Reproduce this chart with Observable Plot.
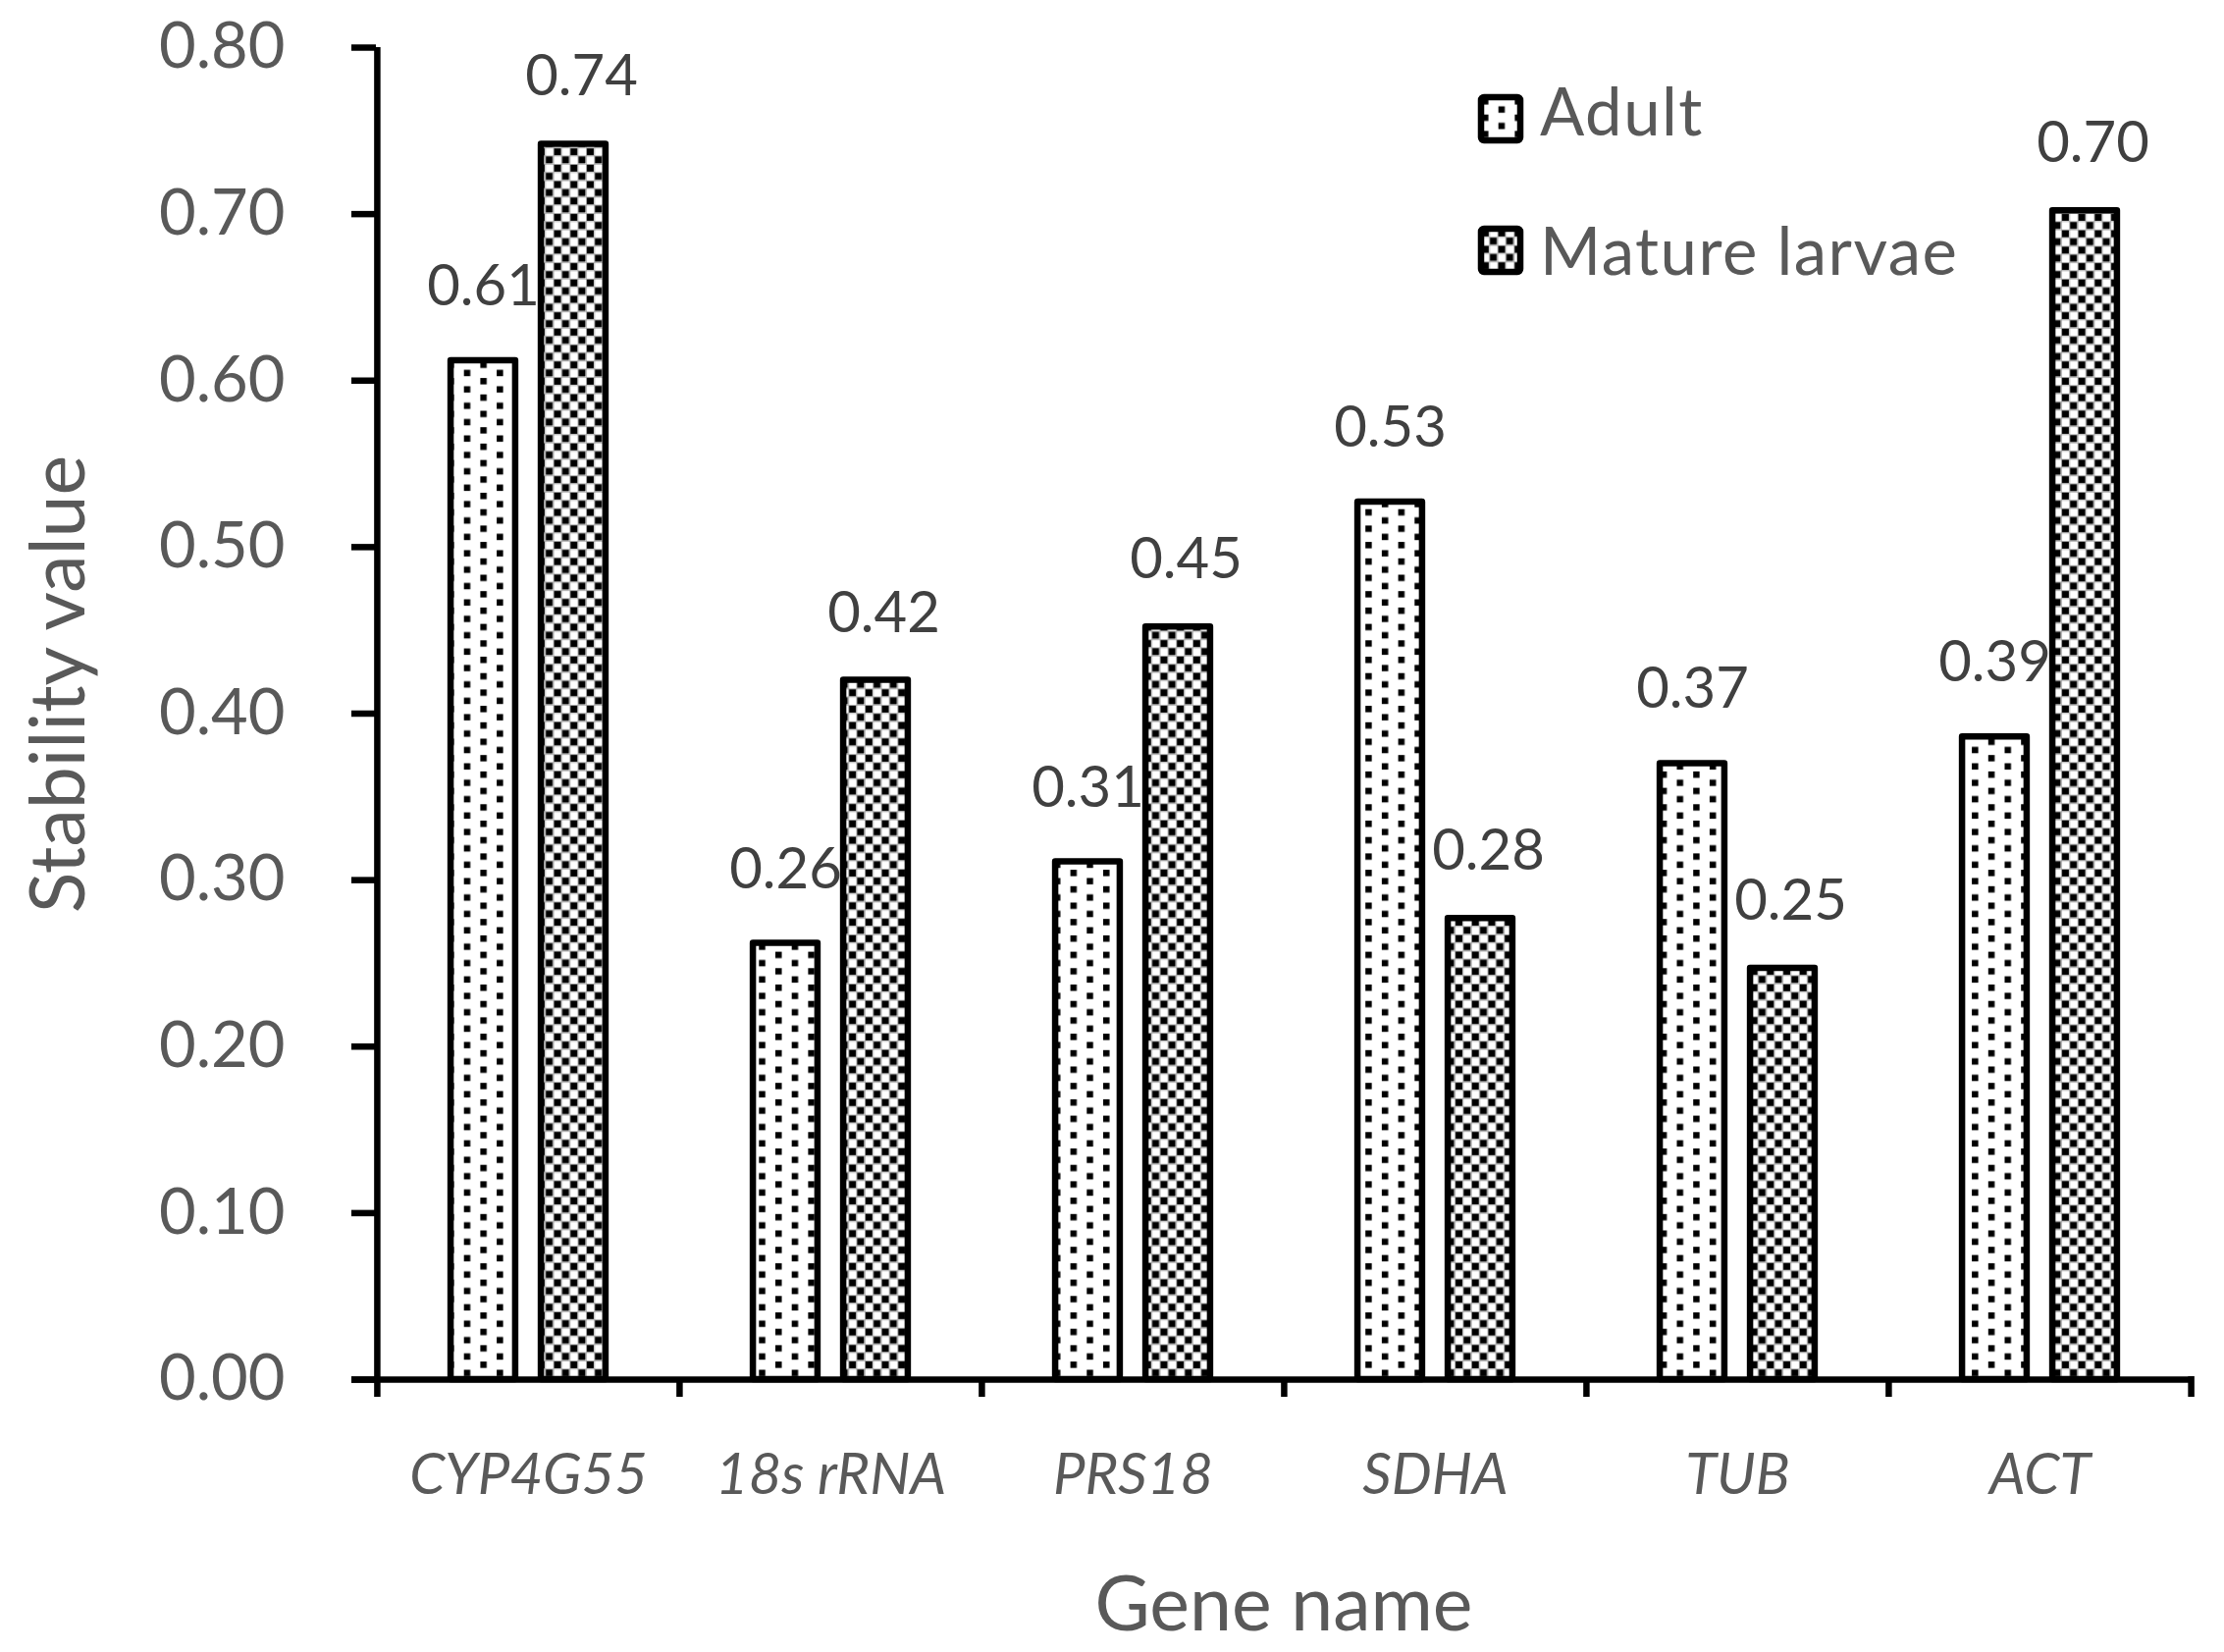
<!DOCTYPE html>
<html>
<head>
<meta charset="utf-8">
<script src="https://cdn.jsdelivr.net/npm/d3@7"></script>
<script src="https://cdn.jsdelivr.net/npm/@observablehq/plot@0.6"></script>
<style>
  html, body { margin: 0; padding: 0; background: #fff; }
  #chart { position: relative; width: 2266px; height: 1683px; }
  #chart svg { font-family: Lato, "Open Sans", sans-serif; }
  g[aria-label="y-axis tick"] { stroke: #000; }
</style>
</head>
<body>
<div id="chart"></div>
<script>
// ---- data ----
const genes = ["CYP4G55", "18s rRNA", "PRS18", "SDHA", "TUB", "ACT"];
const series = ["Adult", "Mature larvae"];
const adult = [0.612, 0.262, 0.311, 0.527, 0.370, 0.386];
const larvae = [0.742, 0.420, 0.452, 0.277, 0.247, 0.702];
const yTicks = [0, 0.1, 0.2, 0.3, 0.4, 0.5, 0.6, 0.7, 0.8];
const xTitle = "Gene name";
const yTitle = "Stability value";

// ---- layout ----
const W = 2266, H = 1683;
const mL = 383, mR = 34, mT = 48, mB = 278;
const band = (W - mL - mR) / genes.length;
const barW = 66;
const off = 46;
const inset = (band - barW) / 2;
const frameH = H - mT - mB;

const adultData = genes.map((g, i) => ({gene: g, value: adult[i]}));
const larvaeData = genes.map((g, i) => ({gene: g, value: larvae[i]}));

const barStyle = {stroke: "#000", strokeWidth: 6.5, strokeLinejoin: "round", insetLeft: inset, insetRight: inset};
const labStyle = {fontSize: 58, fill: "#404040", lineAnchor: "middle"};

const plot = Plot.plot({
  width: W, height: H,
  marginLeft: mL, marginRight: mR, marginTop: mT, marginBottom: mB,
  style: {fontFamily: "Lato, 'Open Sans', sans-serif", background: "#fff"},
  x: {domain: genes, padding: 0, axis: null},
  y: {domain: [0, 0.8]},
  marks: [
    Plot.barY(adultData, {x: "gene", y: "value", fill: "url(#pAdult)", dx: -off, ...barStyle}),
    Plot.barY(larvaeData, {x: "gene", y: "value", fill: "url(#pLarvae)", dx: off, ...barStyle}),
    Plot.text(adultData, {x: "gene", y: "value", text: d => d.value.toFixed(2), dx: -off, dy: -75, ...labStyle}),
    Plot.text(larvaeData, {x: "gene", y: "value", text: d => d.value.toFixed(2), dx: off + 8, dy: -68, ...labStyle}),
    Plot.axisY(yTicks, {label: null, tickSize: 25, tickPadding: 68, strokeWidth: 6.5, fontSize: 65, color: "#595959", tickFormat: d => d.toFixed(2)}),
    // y axis line
    Plot.ruleX([genes[0]], {x: d => d, dx: -band / 2, stroke: "#000", strokeWidth: 6.5}),
    // x axis line
    Plot.ruleY([0], {stroke: "#000", strokeWidth: 6.5, insetLeft: -25}),
    // x boundary ticks
    Plot.ruleX(genes, {x: d => d, dx: -band / 2, stroke: "#000", strokeWidth: 6.5, insetTop: frameH, insetBottom: -18}),
    Plot.ruleX([genes[genes.length - 1]], {x: d => d, dx: band / 2, stroke: "#000", strokeWidth: 6.5, insetTop: frameH - 3, insetBottom: -18}),
    // x tick labels
    Plot.text(genes, {x: d => d, frameAnchor: "bottom", dy: 98, lineAnchor: "middle", fontSize: 58, fontStyle: "italic", fill: "#595959"}),
    // axis titles
    Plot.text([xTitle], {frameAnchor: "bottom", dy: 231, lineAnchor: "middle", fontSize: 77, fill: "#595959"}),
    Plot.text([yTitle], {frameAnchor: "left", textAnchor: "middle", dx: -322, dy: -30, rotate: -90, lineAnchor: "middle", fontSize: 77, fill: "#595959"})
  ]
});

// patterns
const svg = d3.select(plot);
const defs = svg.insert("defs", ":first-child");
const pa = defs.append("pattern").attr("id", "pAdult").attr("patternUnits", "userSpaceOnUse").attr("width", 33.4).attr("height", 16.7);
pa.append("rect").attr("width", 33.4).attr("height", 16.7).attr("fill", "#fff");
pa.append("rect").attr("x", 1).attr("y", 1).attr("width", 6.5).attr("height", 6.5).attr("fill", "#000");
pa.append("rect").attr("x", 17.7).attr("y", 9.35).attr("width", 6.5).attr("height", 6.5).attr("fill", "#000");
const pl = defs.append("pattern").attr("id", "pLarvae").attr("patternUnits", "userSpaceOnUse").attr("width", 16.7).attr("height", 16.7);
pl.append("rect").attr("width", 16.7).attr("height", 16.7).attr("fill", "#fff");
pl.append("rect").attr("x", 0.6).attr("y", 0.6).attr("width", 7.2).attr("height", 7.2).attr("fill", "#000");
pl.append("rect").attr("x", 8.95).attr("y", 8.95).attr("width", 7.2).attr("height", 7.2).attr("fill", "#000");
pl.append("path").attr("d", "M0,0.3H16.7M0,8.65H16.7M0.3,0V16.7M8.65,0V16.7").attr("stroke", "#999").attr("stroke-width", 0.8);

// legend
const legendY = [96, 230];
const leg = svg.append("g").attr("aria-label", "legend").attr("text-anchor", "start");
series.forEach((s, i) => {
  const g = leg.append("g").attr("transform", `translate(1509,${legendY[i] + 3})`);
  g.append("rect").attr("width", 40).attr("height", 44)
    .attr("fill", i === 0 ? "url(#pAdult)" : "url(#pLarvae)")
    .attr("stroke", "#000").attr("stroke-width", 6.5).attr("rx", 3);
  g.append("text").attr("x", 60).attr("y", i === 0 ? 39 : 47)
    .attr("font-size", 67).attr("letter-spacing", 1.5).attr("fill", "#595959").text(s);
});

document.getElementById("chart").appendChild(plot);
</script>
</body>
</html>
